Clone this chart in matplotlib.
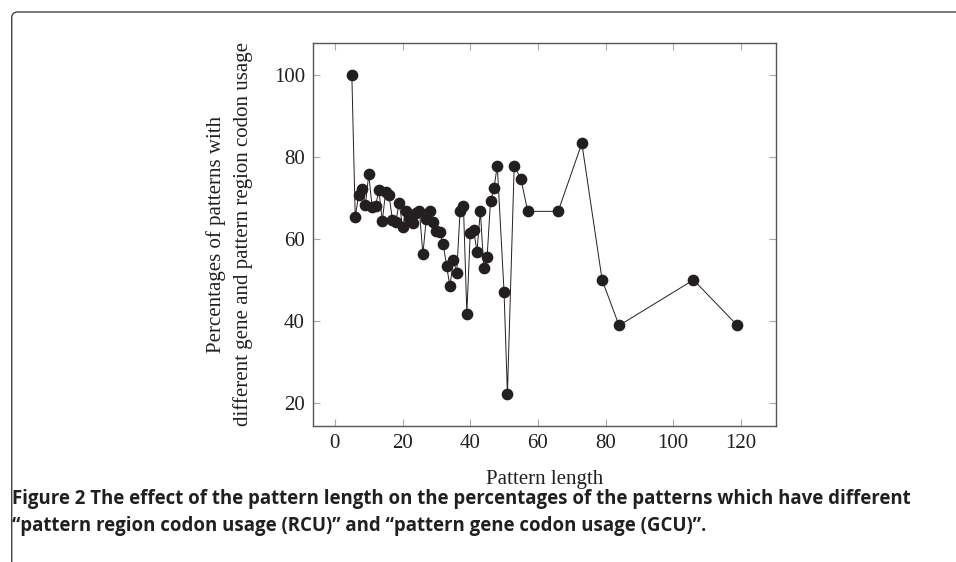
import matplotlib
matplotlib.use('Agg')
from matplotlib import pyplot as plt
from matplotlib.patches import FancyBboxPatch

# Pattern length vs. percentage of patterns with different RCU / GCU
lengths = [5, 6, 7, 8, 9, 10, 11, 12, 13, 14, 15, 16, 17, 18, 19, 20,
           21, 22, 23, 24, 25, 26, 27, 28, 29, 30, 31, 32, 33, 34, 35, 36,
           37, 38, 39, 40, 41, 42, 43, 44, 45, 46, 47, 48, 50, 51, 53, 55,
           57, 66, 73, 79, 84, 106, 119]
percentages = [100, 65.3, 70.6, 72.2, 68.3, 75.7, 67.7, 68.0, 71.9, 64.3,
               71.5, 70.7, 64.6, 64.2, 68.8, 62.9, 66.7, 65.0, 63.8, 66.3,
               66.7, 56.2, 64.9, 66.9, 64.2, 61.9, 61.6, 58.8, 53.5, 48.4,
               54.9, 51.7, 66.8, 67.9, 41.8, 61.4, 62.2, 56.9, 66.8, 52.9,
               55.7, 69.2, 72.3, 77.8, 47.1, 22.2, 77.8, 74.6, 66.7, 66.7,
               83.3, 50.0, 38.9, 50.0, 38.9]

x_ticks = [0, 20, 40, 60, 80, 100, 120]
y_ticks = [20, 40, 60, 80, 100]

caption_lines = [
    "Figure 2 The effect of the pattern length on the percentages of the "
    "patterns which have different",
    "\u201cpattern region codon usage (RCU)\u201d and "
    "\u201cpattern gene codon usage (GCU)\u201d.",
]

serif = ['Liberation Serif', 'DejaVu Serif']
sans = ['Open Sans', 'DejaVu Sans']

fig = plt.figure(figsize=(9.56, 5.62), dpi=100)
ax = fig.add_axes([0.3277, 0.242, 0.484, 0.682])

ax.plot(lengths, percentages, color='#231f20', lw=0.7, marker='o',
        markersize=7.4, markerfacecolor='#231f20', markeredgecolor='#231f20')

# pgfplots style: 10% enlarged limits
xr = max(lengths) - min(lengths)
yr = max(percentages) - min(percentages)
ax.set_xlim(min(lengths) - 0.1 * xr, max(lengths) + 0.1 * xr)
ax.set_ylim(min(percentages) - 0.1 * yr, max(percentages) + 0.1 * yr)
ax.set_xticks(x_ticks)
ax.set_yticks(y_ticks)

ax.tick_params(direction='in', length=5, width=0.8, color='#aaaaaa',
               top=True, right=True, labelsize=15, pad=6)
for lbl in ax.get_xticklabels() + ax.get_yticklabels():
    lbl.set_family(serif)
    lbl.set_color('#231f20')
for sp in ax.spines.values():
    sp.set_color('#555555')
    sp.set_linewidth(1.0)

ax.set_xlabel('Pattern length', family=serif, fontsize=15, color='#231f20',
              labelpad=12)
ax.set_ylabel('Percentages of patterns with\n'
              'different gene and pattern region codon usage',
              family=serif, fontsize=15, color='#231f20', labelpad=15,
              linespacing=1.45)

for i, line in enumerate(caption_lines):
    fig.text(12 / 956, 1 - (499 + 27 * i) / 562, line, family=sans,
             fontweight='bold', fontsize=13.4, color='#231f20',
             ha='left', va='center')

# page frame around the figure (open to the right/bottom)
frame = FancyBboxPatch((0.117, -1.0), 20, 5.50 + 1.0,
                       boxstyle='round,pad=0,rounding_size=0.06',
                       transform=fig.dpi_scale_trans, facecolor='none',
                       edgecolor='#444444', lw=1.0, clip_on=False)
fig.patches.append(frame)

fig.savefig('out.png', dpi=100)
